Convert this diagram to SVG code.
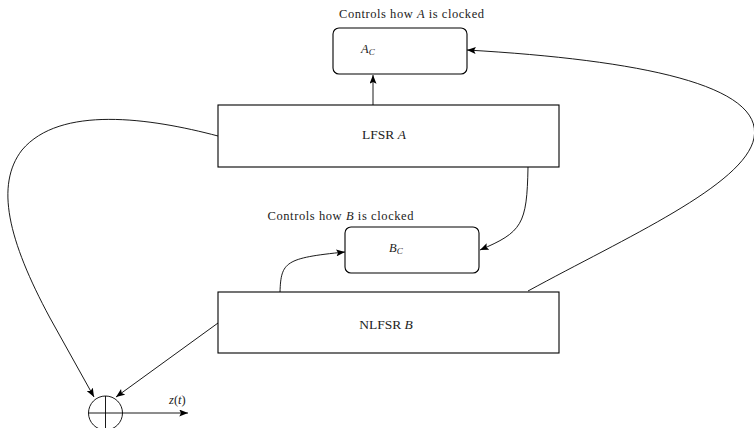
<svg xmlns="http://www.w3.org/2000/svg" width="754" height="428" viewBox="0 0 754 428">
<defs>
<style>
.box{fill:#fff;stroke:#000;stroke-width:1.1}
.conn{fill:none;stroke:#000;stroke-width:0.9}
.t{font-family:"Liberation Serif","Times New Roman",serif;font-size:12.5px;fill:#222}
.big{font-size:13.5px}
.i{font-style:italic}
</style>
<marker id="ah" viewBox="0 0 10 8" refX="10" refY="4" markerWidth="9" markerHeight="7" markerUnits="userSpaceOnUse" orient="auto">
<path d="M0,0 L10,4 L0,8 L2,4 Z" fill="#000"/>
</marker>
</defs>
<g id="connectors">
<path class="conn" d="M373,105 L373,75" marker-end="url(#ah)"/>
<path class="conn" d="M528,167 C527,225 522,232 480,250" marker-end="url(#ah)"/>
<path class="conn" d="M280,292 C281,262 285,258 345,252" marker-end="url(#ah)"/>
<path class="conn" d="M528,291 C625,238 745,185 754,138 C764,85 640,60 467,50" marker-end="url(#ah)"/>
<path class="conn" d="M218,136 C150,118 60,105 22,150 C-5,185 8,240 50,318 L94,397" marker-end="url(#ah)"/>
<path class="conn" d="M218,323 L116,397" marker-end="url(#ah)"/>
<path class="conn" d="M122.5,413 L188,413" marker-end="url(#ah)"/>
</g>
<g id="AC">
<rect class="box" x="333" y="28" width="134" height="46" rx="6"/>
<text class="t" x="411.5" y="17.5" text-anchor="middle" textLength="145">Controls how <tspan class="i">A</tspan> is clocked</text>
<text class="t i" x="361" y="53">A<tspan font-size="9" dy="2">C</tspan></text>
</g>
<g id="LFSRA">
<rect class="box" x="218" y="105" width="341" height="62"/>
<text class="t big" x="384" y="139" text-anchor="middle">LFSR <tspan class="i">A</tspan></text>
</g>
<g id="BC">
<rect class="box" x="345" y="227" width="134" height="46" rx="6"/>
<text class="t" x="340.5" y="220" text-anchor="middle" textLength="146">Controls how <tspan class="i">B</tspan> is clocked</text>
<text class="t i" x="389" y="252">B<tspan font-size="9" dy="2">C</tspan></text>
</g>
<g id="NLFSRB">
<rect class="box" x="218" y="292" width="341" height="61"/>
<text class="t big" x="386" y="329" text-anchor="middle">NLFSR <tspan class="i">B</tspan></text>
</g>
<g id="XOR">
<circle class="conn" cx="105.5" cy="413" r="17"/>
<path class="conn" d="M88.5,413 L122.5,413 M105.5,396 L105.5,430"/>
<text class="t i" x="169" y="404">z<tspan font-style="normal">(</tspan>t<tspan font-style="normal">)</tspan></text>
</g>
</svg>
